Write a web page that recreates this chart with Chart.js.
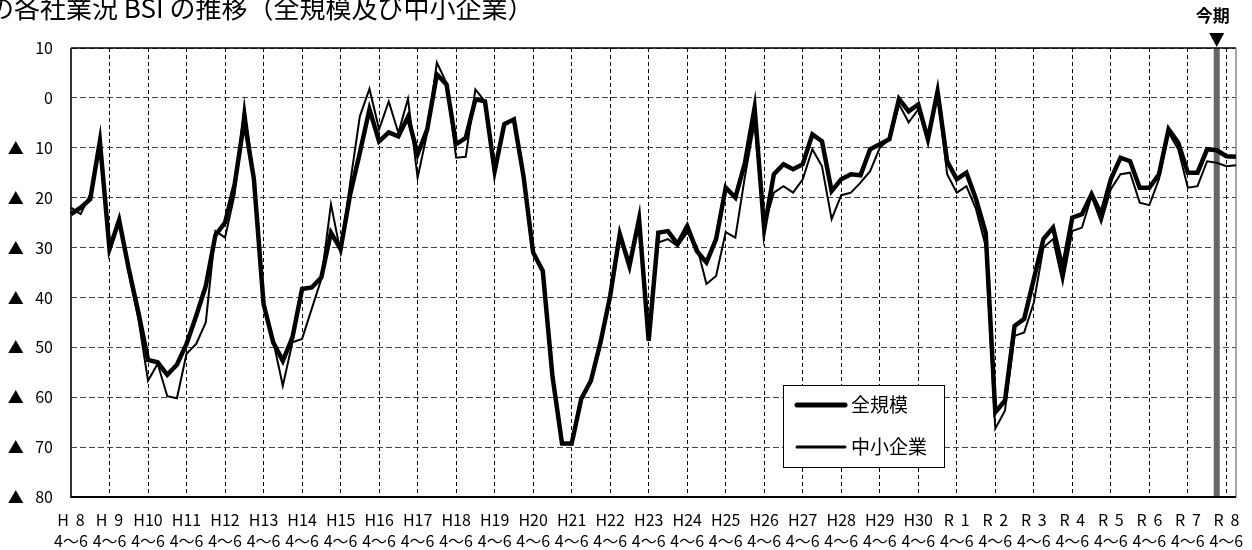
<!DOCTYPE html>
<html>
<head>
<meta charset="utf-8">
<script src="https://cdn.jsdelivr.net/npm/chart.js@4.4.1/dist/chart.umd.min.js"></script>
<style>
html,body{margin:0;padding:0;background:#fff;overflow:hidden;}
#wrap{position:relative;width:1252px;height:550px;overflow:hidden;}
#c{display:block;}
#title{position:absolute;left:-12px;top:-12px;font-family:"Noto Sans CJK JP";font-size:26px;color:#000;white-space:nowrap;z-index:2;}
</style>
</head>
<body>
<div id="wrap">
<div id="title">の各社業況 BSI の推移（全規模及び中小企業）</div>
<canvas id="c" width="1252" height="550"></canvas>
</div>
<script>
// ---- data ----
const yearLabels = ['H \u20098','H \u20099','H10','H11','H12','H13','H14','H15','H16','H17','H18','H19','H20','H21','H22','H23','H24','H25','H26','H27','H28','H29','H30','R \u20091','R \u20092','R \u20093','R \u20094','R \u20095','R \u20096','R \u20097','R \u20098'];
const quarterNames = ['4～6','7～9','10～12','1～3'];
const yTickLabels = ['▲\u2002 80','▲\u2002 70','▲\u2002 60','▲\u2002 50','▲\u2002 40','▲\u2002 30','▲\u2002 20','▲\u2002 10','0','10'];
const yTickValues = [-80,-70,-60,-50,-40,-30,-20,-10,0,10];
const currentPeriodIndex = 119;

const allSizes = [
-23.3,-22,-20.3,-8.7, -30.3,-24.5,-34.3,-43, -52.5,-53,-55.5,-53.5, -49.3,-43.7,-37.7,-27.5,
-25,-17.3,-4.5,-16.3, -41.3,-49,-52.7,-48, -38.3,-38,-36,-27, -30.3,-19.3,-11,-2.3,
-8.7,-6.9,-7.7,-3.8, -11.3,-6.3,4.7,2.7, -9.3,-8,-0.3,-0.7, -14.7,-5.3,-4.3,-15.7,
-31,-34.7,-55.7,-69.3, -69.3,-60.3,-56.7,-49, -39.7,-27.3,-33.7,-24.3, -48.7,-27,-26.7,-29.3,
-25.7,-30.7,-33,-28.3, -18,-20,-13,-2, -26.3,-15.3,-13.3,-14.3, -13.3,-7.3,-8.7,-18.7,
-16.3,-15.3,-15.5,-10.3, -9.3,-8.3,-0.2,-2.7, -1.3,-8.3,1.3,-12.7, -16.3,-15,-20.3,-27,
-63,-60.7,-45.7,-44.3, -36.3,-28.3,-26,-34.3, -24,-23.3,-19.3,-23.3, -16.3,-12,-12.7,-18,
-18,-15.3,-6.3,-9, -15,-15,-10.3,-10.5, -11.7,-11.8
];
const smallMedium = [
-22,-23.3,-19.3,-10.3, -29.7,-24,-35,-44.3, -56.7,-53.3,-59.8,-60.2, -51.3,-49.3,-45,-26.7,
-28,-19.3,-1.3,-16.3, -41,-48.7,-57.7,-49, -48.3,-42.3,-36.3,-21.3, -31,-17,-3.7,1.8,
-6.3,-0.7,-7,-0.2, -16,-7,7.1,3, -12,-11.8,1.7,-0.7, -14.7,-5,-4.3,-15.7,
-31,-34.7,-55.7,-69.3, -69.5,-60.3,-56.7,-49, -39.7,-27.3,-33.7,-24.3, -48.3,-29,-28.3,-29.7,
-27,-29.7,-37.3,-35.7, -26.9,-28,-15.7,-5, -25.7,-19,-17.7,-19, -16.3,-10.3,-13.7,-24.3,
-19.5,-19,-17,-14.7, -10,-8.3,-1.3,-4.9, -2.3,-8.3,0.8,-15.3, -19,-17.7,-22.3,-29.7,
-66.3,-62.7,-47.7,-47, -41,-30,-28.3,-37, -26.7,-26,-19.7,-25, -18.3,-15.3,-15,-21,
-21.5,-16.3,-7,-10.3, -18,-17.7,-12.7,-13, -13.7,-13.5
];

// categories (quarters) built from year labels
const categories = [];
for (let i = 0; i < allSizes.length; i++) {
  const y = Math.floor(i / 4);
  categories.push((yearLabels[y] || '') + ' ' + quarterNames[i % 4]);
}

const FONT = '"Noto Sans CJK JP", "Noto Sans", sans-serif';

const framePlugin = {
  id: 'frame',
  beforeDatasetsDraw(chart) {
    const {ctx, chartArea: a, scales: {x}} = chart;
    ctx.save();
    const cx = x.getPixelForValue(currentPeriodIndex);
    ctx.fillStyle = '#666666';
    ctx.fillRect(cx - 3, a.top, 6, a.bottom - a.top);
    ctx.lineWidth = 1.5;
    ctx.strokeStyle = '#000';
    ctx.beginPath(); ctx.moveTo(a.left, a.top); ctx.lineTo(a.right, a.top); ctx.stroke();
    ctx.strokeStyle = '#888';
    ctx.beginPath(); ctx.moveTo(a.right, a.top); ctx.lineTo(a.right, a.bottom); ctx.stroke();
    ctx.lineWidth = 2;
    ctx.strokeStyle = '#333';
    ctx.beginPath(); ctx.moveTo(a.left, a.top); ctx.lineTo(a.left, a.bottom + 1); ctx.stroke();
    ctx.strokeStyle = '#000';
    ctx.beginPath(); ctx.moveTo(a.left, a.bottom); ctx.lineTo(a.right, a.bottom); ctx.stroke();
    ctx.fillStyle = '#000';
    ctx.beginPath();
    ctx.moveTo(cx - 7.5, a.top - 15);
    ctx.lineTo(cx + 7.5, a.top - 15);
    ctx.lineTo(cx, a.top - 1);
    ctx.closePath(); ctx.fill();
    ctx.font = 'bold 17px ' + FONT;
    ctx.textAlign = 'center';
    ctx.textBaseline = 'middle';
    ctx.fillText('今期', cx - 4, a.top - 32);
    ctx.restore();
  },
  afterDatasetsDraw(chart) {
    const {ctx} = chart;
    const ds = chart.data.datasets;
    ctx.save();
    const bx = 783, by = 385, bw = 161, bh = 82;
    ctx.fillStyle = '#fff';
    ctx.fillRect(bx, by, bw, bh);
    ctx.strokeStyle = '#000';
    ctx.lineWidth = 1;
    ctx.strokeRect(bx + 0.5, by + 0.5, bw, bh);
    const rows = [{y: 405, d: ds[1]}, {y: 447, d: ds[0]}];
    ctx.font = '19px ' + FONT;
    ctx.textBaseline = 'middle';
    ctx.textAlign = 'left';
    ctx.fillStyle = '#000';
    rows.forEach(r => {
      ctx.strokeStyle = r.d.borderColor;
      ctx.lineWidth = r.d.legendWidth;
      ctx.lineCap = 'round';
      ctx.beginPath(); ctx.moveTo(797, r.y); ctx.lineTo(845, r.y); ctx.stroke();
      ctx.fillText(r.d.label, 851, r.y);
    });
    ctx.restore();
  }
};

new Chart(document.getElementById('c'), {
  type: 'line',
  data: {
    labels: categories,
    datasets: [
      {label: '中小企業', data: smallMedium, borderColor: '#000', borderWidth: 2, legendWidth: 3, pointRadius: 0, tension: 0, borderJoinStyle: 'miter'},
      {label: '全規模', data: allSizes, borderColor: '#000', borderWidth: 4.5, legendWidth: 5, pointRadius: 0, tension: 0, borderJoinStyle: 'miter'}
    ]
  },
  options: {
    responsive: false,
    animation: false,
    devicePixelRatio: 1,
    layout: {padding: {top: 48, right: 16, left: 0, bottom: 0}, autoPadding: false},
    plugins: {legend: {display: false}, tooltip: {enabled: false}, title: {display: false}},
    scales: {
      x: {
        type: 'category',
        offset: false,
        afterFit(s) { s.height = 53; s.paddingLeft = 0; s.paddingRight = 0; },
        grid: {drawTicks: false, color: '#000', lineWidth: 1},
        border: {display: false, dash: [4, 3]},
        ticks: {
          autoSkip: false, maxRotation: 0, minRotation: 0, padding: 12,
          color: '#000', font: {family: FONT, size: 16, lineHeight: 1.35},
          callback(v, i) { return i % 4 === 0 ? [yearLabels[i / 4], quarterNames[0]] : null; }
        }
      },
      y: {
        min: -80, max: 10,
        afterFit(s) { s.width = 71; s.paddingTop = 0; s.paddingBottom = 0; },
        afterBuildTicks(s) { s.ticks = yTickValues.map(v => ({value: v})); },
        grid: {drawTicks: false, color: '#444', lineWidth: 1},
        border: {display: false, dash: [6, 3]},
        ticks: {
          padding: 18, color: '#000', font: {family: FONT, size: 16},
          callback(v) { const k = yTickValues.indexOf(v); return k >= 0 ? yTickLabels[k] : ''; }
        }
      }
    }
  },
  plugins: [framePlugin]
});
</script>
</body>
</html>
